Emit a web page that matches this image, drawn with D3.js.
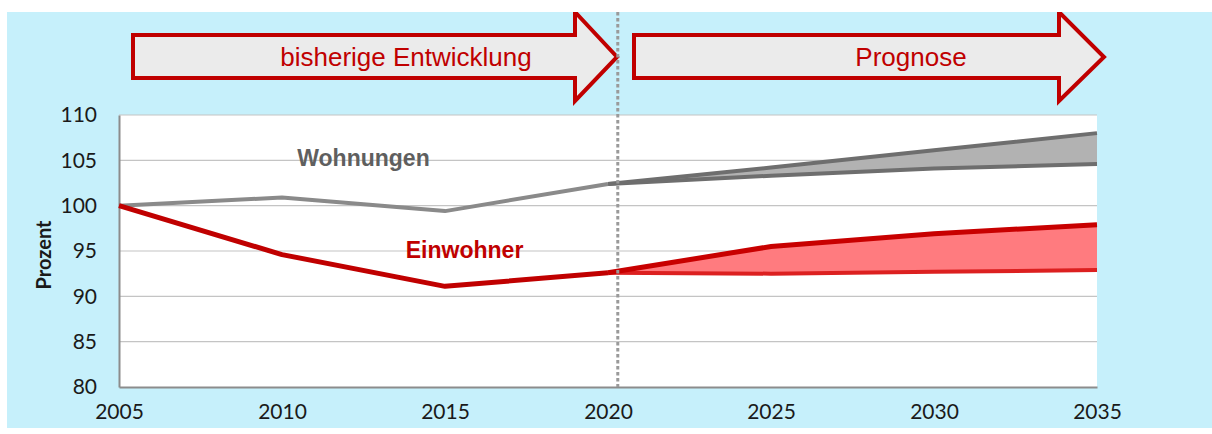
<!DOCTYPE html>
<html><head><meta charset="utf-8">
<script src="https://cdn.jsdelivr.net/npm/d3@7"></script>
<style>html,body{margin:0;padding:0;background:#fff;}svg{display:block;}</style>
</head><body>
<svg id="c" width="1212" height="434"></svg>
<script>
// ---- data ----
const yearsHist = [2005, 2010, 2015, 2020];
const wohnungenHist = [100, 100.9, 99.4, 102.4];
const einwohnerHist = [100, 94.6, 91.1, 92.6];
const yearsProg = [2020, 2025, 2030, 2035];
const wohnungenHigh = [102.4, 104.2, 106.1, 108.0];
const wohnungenLow = [102.4, 103.3, 104.1, 104.6];
const einwohnerHigh = [92.6, 95.5, 96.9, 97.9];
const einwohnerLow = [92.6, 92.5, 92.7, 92.9];
const xTicks = [2005, 2010, 2015, 2020, 2025, 2030, 2035];
const yTicks = [80, 85, 90, 95, 100, 105, 110];
const markerYear = 2020.3;
const arrowLabels = ["bisherige Entwicklung", "Prognose"];

// ---- layout ----
const svg = d3.select("#c");
const L = 119, R = 1097, T = 115, B = 387;
const x = d3.scaleLinear().domain([2005, 2035]).range([L, R]);
const y = d3.scaleLinear().domain([80, 110]).range([B, T]);

svg.append("rect").attr("x", 7).attr("y", 12).attr("width", 1205).attr("height", 416).attr("fill", "#c6f0fb");
svg.append("rect").attr("x", L).attr("y", T).attr("width", R - L).attr("height", B - T).attr("fill", "#ffffff");

// gridlines
svg.append("g").selectAll("line").data(yTicks.filter(d => d > 80)).join("line")
  .attr("x1", L).attr("x2", R).attr("y1", d => y(d)).attr("y2", d => y(d))
  .attr("stroke", "#c4c4c4").attr("stroke-width", 1.2);

// axes
const yAxis = svg.append("g").attr("transform", `translate(${L},0)`)
  .call(d3.axisLeft(y).tickValues(yTicks).tickSize(0).tickPadding(22));
const xAxis = svg.append("g").attr("transform", `translate(0,${B})`)
  .call(d3.axisBottom(x).tickValues(xTicks).tickFormat(d3.format("d")).tickSize(0).tickPadding(17));
[yAxis, xAxis].forEach(a => {
  a.select(".domain").attr("stroke", "#8c8c8c").attr("stroke-width", 2);
  a.selectAll("text").attr("font-family", "Lato, 'Open Sans', sans-serif").attr("font-size", 21).attr("fill", "#1a1a1a");
});

// projection areas
const histPts = (vals) => yearsHist.map((yr, i) => [yr, vals[i]]);
const band = (hi, lo) => yearsProg.map((yr, i) => ({yr, hi: hi[i], lo: lo[i]}));
const area = d3.area().x(d => x(d.yr)).y0(d => y(d.lo)).y1(d => y(d.hi));
svg.append("path").attr("d", area(band(wohnungenHigh, wohnungenLow))).attr("fill", "#b2b2b2");
svg.append("path").attr("d", area(band(einwohnerHigh, einwohnerLow))).attr("fill", "#ff7b7f");

const line = d3.line().x(d => x(d[0])).y(d => y(d[1]));
const progPts = (vals) => yearsProg.map((yr, i) => [yr, vals[i]]);
svg.append("path").attr("d", line(progPts(wohnungenLow))).attr("fill", "none").attr("stroke", "#6e6e6e").attr("stroke-width", 4);
svg.append("path").attr("d", line(progPts(wohnungenHigh))).attr("fill", "none").attr("stroke", "#6e6e6e").attr("stroke-width", 4);
svg.append("path").attr("d", line(histPts(wohnungenHist))).attr("fill", "none").attr("stroke", "#8a8a8a").attr("stroke-width", 4).attr("stroke-linejoin", "round");
svg.append("path").attr("d", line(progPts(einwohnerLow))).attr("fill", "none").attr("stroke", "#dc2020").attr("stroke-width", 4);
svg.append("path").attr("d", line(progPts(einwohnerHigh))).attr("fill", "none").attr("stroke", "#c80000").attr("stroke-width", 5);
svg.append("path").attr("d", line(histPts(einwohnerHist))).attr("fill", "none").attr("stroke", "#c00000").attr("stroke-width", 5).attr("stroke-linejoin", "round");

// series labels
svg.append("text").attr("x", x(2012.5)).attr("y", y(105.3)).attr("dy", "0.35em").attr("text-anchor", "middle")
  .attr("font-family", "'Liberation Sans', Arial, sans-serif").attr("font-weight", "bold").attr("font-size", 23)
  .attr("fill", "#5f5f5f").text("Wohnungen");
svg.append("text").attr("x", x(2015.6)).attr("y", y(95.1)).attr("dy", "0.35em").attr("text-anchor", "middle")
  .attr("font-family", "'Liberation Sans', Arial, sans-serif").attr("font-weight", "bold").attr("font-size", 23)
  .attr("fill", "#c00000").text("Einwohner");

// y title
svg.append("text").attr("transform", `translate(51,${(T + B) / 2 + 4}) rotate(-90)`).attr("text-anchor", "middle")
  .attr("font-family", "Lato, 'Open Sans', sans-serif").attr("font-weight", "bold").attr("font-size", 20)
  .attr("fill", "#1a1a1a").text("Prozent");

// arrows
const arrows = [
  {x0: 133, xb: 575, xt: 617, label: arrowLabels[0], tx: 406},
  {x0: 634, xb: 1059, xt: 1104, label: arrowLabels[1], tx: 911}
];
const bodyTop = 35, bodyBot = 78, headTop = 12, headBot = 101, midY = 57;
svg.append("clipPath").attr("id", "bg").append("rect").attr("x", 7).attr("y", 12).attr("width", 1205).attr("height", 416);
const ag = svg.append("g").attr("clip-path", "url(#bg)");
arrows.forEach(a => {
  const pts = [[a.x0, bodyTop], [a.xb, bodyTop], [a.xb, headTop], [a.xt, midY], [a.xb, headBot], [a.xb, bodyBot], [a.x0, bodyBot]];
  ag.append("path").attr("d", "M" + pts.join("L") + "Z").attr("fill", "#ebebeb").attr("stroke", "#c00000").attr("stroke-width", 4).attr("stroke-linejoin", "miter");
  svg.append("text").attr("x", a.tx).attr("y", midY).attr("dy", "0.35em").attr("text-anchor", "middle")
    .attr("font-family", "'Liberation Sans', Arial, sans-serif").attr("font-size", 26).attr("fill", "#c00000").text(a.label);
});

// dotted divider
svg.append("line").attr("x1", x(markerYear)).attr("x2", x(markerYear)).attr("y1", 12).attr("y2", B)
  .attr("stroke", "#9a9a9a").attr("stroke-width", 3).attr("stroke-dasharray", "3.5,2.5");
</script>
</body></html>
